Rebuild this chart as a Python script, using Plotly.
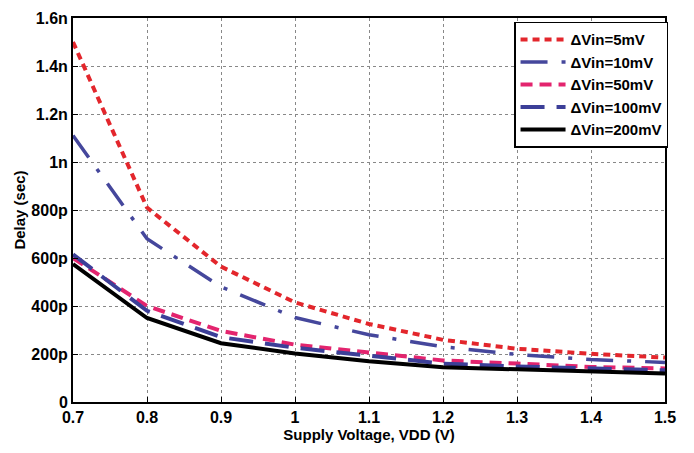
import plotly.graph_objects as go

vdd = [0.7, 0.8, 0.9, 1.0, 1.1, 1.2, 1.3, 1.4, 1.5]
# delay in ps
d_5mV = [1500, 810, 564, 415, 325, 259, 222, 201, 185]
d_10mV = [1110, 680, 480, 352, 280, 230, 198, 177, 165]
d_50mV = [600, 400, 296, 239, 206, 173, 160, 146, 140]
d_100mV = [615, 380, 270, 226, 193, 160, 148, 140, 132]
d_200mV = [575, 350, 245, 202, 170, 145, 136, 128, 119]

series_names = ["ΔVin=5mV", "ΔVin=10mV", "ΔVin=50mV", "ΔVin=100mV", "ΔVin=200mV"]
series_vals = [d_5mV, d_10mV, d_50mV, d_100mV, d_200mV]

x_ticks = [0.7, 0.8, 0.9, 1.0, 1.1, 1.2, 1.3, 1.4, 1.5]
x_ticktext = ["0.7", "0.8", "0.9", "1", "1.1", "1.2", "1.3", "1.4", "1.5"]
y_ticks = [0, 200, 400, 600, 800, 1000, 1200, 1400, 1600]
y_ticktext = ["0", "200p", "400p", "600p", "800p", "1n", "1.2n", "1.4n", "1.6n"]

styles = [
    dict(color="#e3262c", width=4, dash="7px,5px"),
    dict(color="#45479c", width=3.5, dash="27px,14px,4px,14px"),
    dict(color="#e3246e", width=4, dash="12px,7px"),
    dict(color="#3c3f98", width=4, dash="24px,12px"),
    dict(color="#000000", width=4, dash="solid"),
]

fig = go.Figure()
for name, vals, st in zip(series_names, series_vals, styles):
    fig.add_trace(go.Scatter(x=vdd, y=vals, mode="lines", name=name, line=st))

font_fam = "Liberation Sans, Arial, sans-serif"
fig.update_layout(
    width=686, height=445,
    margin=dict(l=65, r=29, t=10, b=51),
    paper_bgcolor="white", plot_bgcolor="white",
    font=dict(family=font_fam, size=15, color="black"),
    legend=dict(
        x=0.745, y=0.99, xanchor="left", yanchor="top",
        bgcolor="white", bordercolor="black", borderwidth=1.5,
        font=dict(size=15, family=font_fam, weight="bold"),
        tracegroupgap=3, itemwidth=45,
    ),
    showlegend=True,
)
grid_style = dict(showgrid=True, gridcolor="#888888", griddash="dot", gridwidth=1)
fig.update_xaxes(
    range=[0.7, 1.5], tickvals=x_ticks, ticktext=x_ticktext,
    showline=True, linecolor="black", linewidth=2, mirror=True,
    ticks="inside", ticklen=5, tickcolor="black",
    zeroline=False, automargin=False, ticklabeloverflow="allow",
    tickfont=dict(size=16, family=font_fam, weight="bold"),
    title=dict(text="<b>Supply Voltage, VDD (V)</b>", font=dict(size=15, family=font_fam), standoff=4),
    **grid_style,
)
fig.update_yaxes(
    range=[0, 1600], tickvals=y_ticks, ticktext=y_ticktext,
    showline=True, linecolor="black", linewidth=2, mirror=True,
    ticks="inside", ticklen=5, tickcolor="black",
    zeroline=False, automargin=False, ticklabeloverflow="allow",
    tickfont=dict(size=16, family=font_fam, weight="bold"),
    title=dict(text="<b>Delay (sec)</b>", font=dict(size=15, family=font_fam), standoff=2),
    **grid_style,
)
fig.write_html("out.html", config={"displayModeBar": False})
